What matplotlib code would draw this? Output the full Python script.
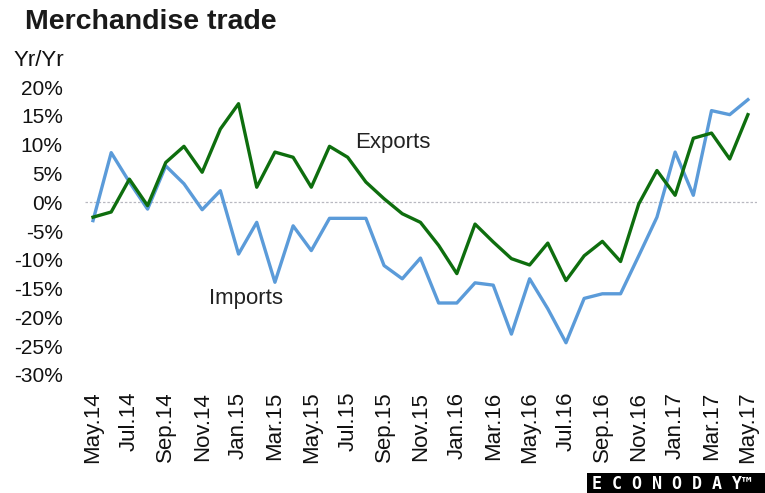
import matplotlib.pyplot as plt
from matplotlib.patches import Rectangle

plt.rcParams['font.family'] = ['Liberation Sans', 'DejaVu Sans']

# Monthly year-over-year change, May 2014 - May 2017
months = ['May.14', 'Jun.14', 'Jul.14', 'Aug.14', 'Sep.14', 'Oct.14', 'Nov.14', 'Dec.14',
          'Jan.15', 'Feb.15', 'Mar.15', 'Apr.15', 'May.15', 'Jun.15', 'Jul.15', 'Aug.15',
          'Sep.15', 'Oct.15', 'Nov.15', 'Dec.15', 'Jan.16', 'Feb.16', 'Mar.16', 'Apr.16',
          'May.16', 'Jun.16', 'Jul.16', 'Aug.16', 'Sep.16', 'Oct.16', 'Nov.16', 'Dec.16',
          'Jan.17', 'Feb.17', 'Mar.17', 'Apr.17', 'May.17']
exports = [-2.6, -1.7, 4.0, -0.6, 6.9, 9.7, 5.2, 12.7, 17.1, 2.6, 8.7, 7.8, 2.6,
           9.7, 7.8, 3.5, 0.6, -2.0, -3.5, -7.5, -12.4, -3.8, -6.9, -9.8, -10.9,
           -7.1, -13.6, -9.3, -6.8, -10.3, -0.3, 5.5, 1.2, 11.1, 12.0, 7.5, 15.2]
imports = [-3.2, 8.6, 3.5, -1.2, 6.3, 3.2, -1.3, 2.0, -9.0, -3.5, -13.9, -4.1, -8.4,
           -2.8, -2.8, -2.8, -11.0, -13.3, -9.7, -17.5, -17.5, -14.0, -14.4, -22.9, -13.3,
           -18.5, -24.4, -16.7, -15.9, -15.9, -9.3, -2.6, 8.7, 1.2, 15.9, 15.2, 17.8]
yticks = [20, 15, 10, 5, 0, -5, -10, -15, -20, -25, -30]

x = list(range(len(months)))

fig = plt.figure(figsize=(7.65, 4.93), dpi=100)
ax = fig.add_axes([85 / 765, 1 - 375 / 493, 672 / 765, 288 / 493])

ax.axhline(0, color='#b8b8c0', lw=0.9, ls=(0, (2, 1.5)), zorder=1)
ax.plot(x, imports, color='#5b9bd9', lw=2.4, zorder=3)
ax.plot(x, exports, color='#0e6e0e', lw=2.4, zorder=4)

ax.set_xlim(-0.44, 36.5)
ax.set_ylim(-30, 20)
ax.set_yticks(yticks)
ax.set_yticklabels([f'{v}%' for v in yticks], fontsize=15)
ax.set_xticks(x[::2])
ax.set_xticklabels(months[::2], rotation=90, fontsize=16, va='top')
ax.tick_params(axis='both', length=0, colors='#111111')
ax.tick_params(axis='y', pad=16)
ax.tick_params(axis='x', pad=12)
for s in ax.spines.values():
    s.set_visible(False)

ax.text(14.4, 10.4, 'Exports', fontsize=16, color='#222222', va='center', ha='left')
ax.text(6.4, -16.8, 'Imports', fontsize=16, color='#222222', va='center', ha='left')

fig.text(25 / 765, 1 - 22 / 493, 'Merchandise trade', fontsize=20.5, fontweight='bold',
         color='#1a1a1a', va='center', ha='left')
fig.text(14 / 765, 1 - 60 / 493, 'Yr/Yr', fontsize=16, color='#111111', va='center', ha='left')

# logo bar in the bottom-right corner
fig.patches.append(Rectangle((587 / 765, 0), 178 / 765, 20 / 493, transform=fig.transFigure,
                             facecolor='black', edgecolor='none'))
fig.text(672 / 765, 9 / 493, 'E C O N O D A Y\u2122', fontsize=12, fontweight='bold', color='white',
         va='center', ha='center', family='DejaVu Sans Mono')

fig.savefig('out.png', dpi=100)
